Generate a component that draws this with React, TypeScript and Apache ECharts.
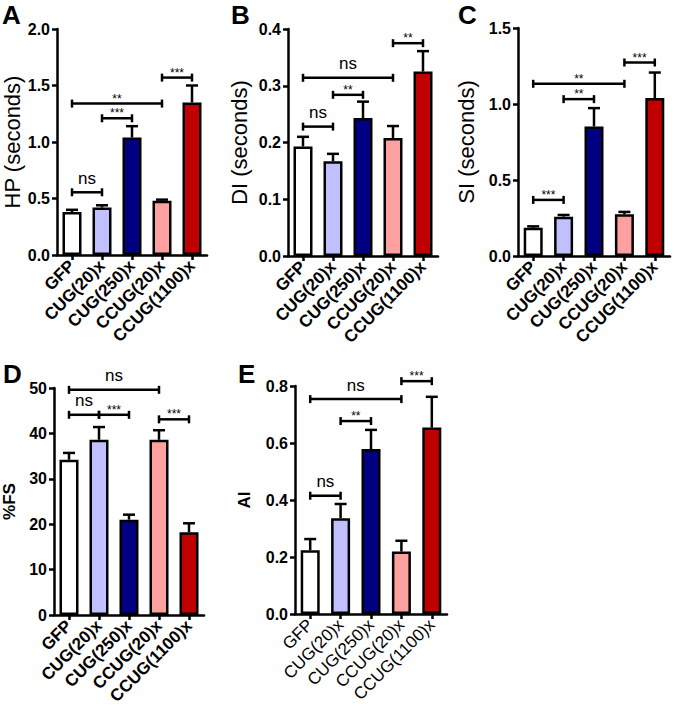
import React, { useEffect, useRef } from "react";
import * as echarts from "echarts";

const categories = ["GFP", "CUG(20)x", "CUG(250)x", "CCUG(20)x", "CCUG(1100)x"];
const barColors = ["#FFFFFF", "#C0C0FF", "#000080", "#FFA0A0", "#C00000"];

// Panel A: HP (seconds)
const hpMean = [0.38, 0.42, 1.04, 0.48, 1.35];
const hpErrTop = [0.4, 0.44, 1.14, 0.49, 1.5];
const hpSig: [number, number, number, string][] = [
  [0, 1, 0.555, "ns"],
  [0, 3, 1.34, "**"],
  [1, 2, 1.21, "***"],
  [3, 4, 1.57, "***"],
];

// Panel B: DI (seconds)
const diMean = [0.193, 0.167, 0.243, 0.208, 0.325];
const diErrTop = [0.21, 0.18, 0.272, 0.229, 0.361];
const diSig: [number, number, number, string][] = [
  [0, 1, 0.228, "ns"],
  [0, 3, 0.314, "ns"],
  [1, 2, 0.284, "**"],
  [3, 4, 0.375, "**"],
];

// Panel C: SI (seconds)
const siMean = [0.186, 0.259, 0.852, 0.274, 1.039];
const siErrTop = [0.195, 0.27, 0.973, 0.29, 1.207];
const siSig: [number, number, number, string][] = [
  [0, 1, 0.369, "***"],
  [0, 3, 1.133, "**"],
  [1, 2, 1.032, "**"],
  [3, 4, 1.273, "***"],
];

// Panel D: %FS
const fsMean = [34.2, 38.6, 21.0, 38.6, 18.2];
const fsErrTop = [35.7, 41.4, 22.1, 40.7, 20.2];
const fsSig: [number, number, number, string][] = [
  [0, 3, 49.6, "ns"],
  [0, 1, 44.1, "ns"],
  [1, 2, 44.1, "***"],
  [3, 4, 43.1, "***"],
];

// Panel E: AI
const aiMean = [0.224, 0.336, 0.579, 0.219, 0.654];
const aiErrTop = [0.263, 0.386, 0.646, 0.257, 0.762];
const aiSig: [number, number, number, string][] = [
  [0, 1, 0.415, "ns"],
  [0, 3, 0.754, "ns"],
  [1, 2, 0.677, "**"],
  [3, 4, 0.817, "***"],
];

const FONT = "'Liberation Sans', Arial, sans-serif";
const LW = 2.5;

type Panel = {
  letter: string;
  letterPos: [number, number];
  grid: { left: number; top: number; width: number; height: number };
  yName: string;
  yNameSize: number;
  yNameWeight: string;
  nameGap: number;
  max: number;
  interval: number;
  decimals: number;
  mean: number[];
  errTop: number[];
  sig: [number, number, number, string][];
  xLabelWeight: string;
  xLabelSize: number;
};

const panels: Panel[] = [
  {
    letter: "A", letterPos: [2, 2],
    grid: { left: 57, top: 29, width: 150, height: 226 },
    yName: "HP (seconds)", yNameSize: 22, yNameWeight: "normal", nameGap: 34,
    max: 2, interval: 0.5, decimals: 1,
    mean: hpMean, errTop: hpErrTop, sig: hpSig,
    xLabelWeight: "bold", xLabelSize: 17,
  },
  {
    letter: "B", letterPos: [231, 2],
    grid: { left: 288, top: 29, width: 150, height: 227 },
    yName: "DI (seconds)", yNameSize: 22, yNameWeight: "normal", nameGap: 38,
    max: 0.4, interval: 0.1, decimals: 1,
    mean: diMean, errTop: diErrTop, sig: diSig,
    xLabelWeight: "bold", xLabelSize: 17,
  },
  {
    letter: "C", letterPos: [458, 2],
    grid: { left: 518, top: 28, width: 152, height: 228 },
    yName: "SI (seconds)", yNameSize: 22, yNameWeight: "normal", nameGap: 41,
    max: 1.5, interval: 0.5, decimals: 1,
    mean: siMean, errTop: siErrTop, sig: siSig,
    xLabelWeight: "bold", xLabelSize: 17,
  },
  {
    letter: "D", letterPos: [3, 361],
    grid: { left: 53, top: 388, width: 151, height: 227 },
    yName: "%FS", yNameSize: 17, yNameWeight: "bold", nameGap: 36,
    max: 50, interval: 10, decimals: 0,
    mean: fsMean, errTop: fsErrTop, sig: fsSig,
    xLabelWeight: "bold", xLabelSize: 17,
  },
  {
    letter: "E", letterPos: [238, 361],
    grid: { left: 295, top: 386, width: 152, height: 228 },
    yName: "AI", yNameSize: 17, yNameWeight: "bold", nameGap: 42,
    max: 0.8, interval: 0.2, decimals: 1,
    mean: aiMean, errTop: aiErrTop, sig: aiSig,
    xLabelWeight: "normal", xLabelSize: 17,
  },
];

function buildOption() {
  const grid: any[] = [];
  const xAxis: any[] = [];
  const yAxis: any[] = [];
  const series: any[] = [];
  const graphic: any[] = [];

  panels.forEach((p, i) => {
    grid.push({ ...p.grid, containLabel: false });
    xAxis.push({
      type: "category",
      gridIndex: i,
      data: categories,
      axisLine: { show: true, lineStyle: { color: "#000", width: LW } },
      axisTick: { show: true, alignWithLabel: true, length: 5, lineStyle: { color: "#000", width: LW } },
      axisLabel: {
        rotate: 45,
        interval: 0,
        margin: 8,
        color: "#000",
        fontFamily: FONT,
        fontSize: p.xLabelSize,
        fontWeight: p.xLabelWeight,
      },
      splitLine: { show: false },
    });
    yAxis.push({
      type: "value",
      gridIndex: i,
      min: 0,
      max: p.max,
      interval: p.interval,
      name: p.yName,
      nameLocation: "middle",
      nameGap: p.nameGap,
      nameTextStyle: { color: "#000", fontFamily: FONT, fontSize: p.yNameSize, fontWeight: p.yNameWeight },
      axisLine: { show: true, lineStyle: { color: "#000", width: LW } },
      axisTick: { show: true, length: 5, lineStyle: { color: "#000", width: LW } },
      axisLabel: {
        color: "#000",
        fontFamily: FONT,
        fontSize: 16,
        fontWeight: "bold",
        margin: 7,
        formatter: (v: number) => v.toFixed(p.decimals),
      },
      splitLine: { show: false },
    });
    series.push({
      type: "bar",
      xAxisIndex: i,
      yAxisIndex: i,
      barWidth: 19,
      z: 3,
      data: p.mean.map((v, j) => ({
        value: v,
        itemStyle: { color: barColors[j], borderColor: "#000", borderWidth: LW },
      })),
    });
    series.push({
      type: "custom",
      xAxisIndex: i,
      yAxisIndex: i,
      z: 2,
      encode: { x: 0, y: [1, 2] },
      data: p.mean.map((v, j) => [j, v, p.errTop[j]]),
      renderItem: (params: any, api: any) => {
        const x = api.value(0);
        const lo = api.coord([x, api.value(1)]);
        const hi = api.coord([x, api.value(2)]);
        return {
          type: "group",
          children: [
            { type: "line", shape: { x1: lo[0], y1: lo[1], x2: hi[0], y2: hi[1] }, style: { stroke: "#000", lineWidth: LW } },
            { type: "line", shape: { x1: hi[0] - 6, y1: hi[1], x2: hi[0] + 6, y2: hi[1] }, style: { stroke: "#000", lineWidth: LW } },
          ],
        };
      },
    });
    const sig = p.sig;
    series.push({
      type: "custom",
      xAxisIndex: i,
      yAxisIndex: i,
      z: 4,
      clip: false,
      encode: { x: 0, y: 1 },
      data: sig.map((s) => [s[0], s[2], s[1]]),
      renderItem: (params: any, api: any) => {
        const label = sig[params.dataIndex][3];
        const a = api.coord([api.value(0), api.value(1)]);
        const b = api.coord([api.value(2), api.value(1)]);
        const y = a[1];
        const cx = (a[0] + b[0]) / 2;
        const isNs = label === "ns";
        return {
          type: "group",
          children: [
            { type: "line", shape: { x1: a[0], y1: y, x2: b[0], y2: y }, style: { stroke: "#000", lineWidth: LW } },
            { type: "line", shape: { x1: a[0], y1: y - 4, x2: a[0], y2: y + 4 }, style: { stroke: "#000", lineWidth: LW } },
            { type: "line", shape: { x1: b[0], y1: y - 4, x2: b[0], y2: y + 4 }, style: { stroke: "#000", lineWidth: LW } },
            {
              type: "text",
              x: cx,
              y: isNs ? y - 14 : y - 5,
              style: {
                text: label,
                fill: "#000",
                fontFamily: FONT,
                fontSize: isNs ? 17 : 12,
                lineHeight: isNs ? 14 : 7,
                align: "center",
                verticalAlign: "middle",
              },
            },
          ],
        };
      },
    });
    graphic.push({
      type: "text",
      x: p.letterPos[0],
      y: p.letterPos[1],
      style: {
        text: p.letter,
        fill: "#000",
        fontFamily: FONT,
        fontSize: 26,
        fontWeight: "bold",
        align: "left",
        verticalAlign: "top",
      },
    });
  });

  return {
    animation: false,
    backgroundColor: "#fff",
    grid,
    xAxis,
    yAxis,
    series,
    graphic,
  };
}

export default function App() {
  const ref = useRef<HTMLDivElement>(null);
  useEffect(() => {
    document.body.style.margin = "0";
    if (!ref.current) return;
    const chart = echarts.init(ref.current, undefined, { renderer: "svg" });
    chart.setOption(buildOption() as any);
    return () => chart.dispose();
  }, []);
  return (
    <div
      ref={ref}
      style={{ position: "absolute", left: 0, top: 0, width: 675, height: 708, background: "#fff" }}
    />
  );
}
